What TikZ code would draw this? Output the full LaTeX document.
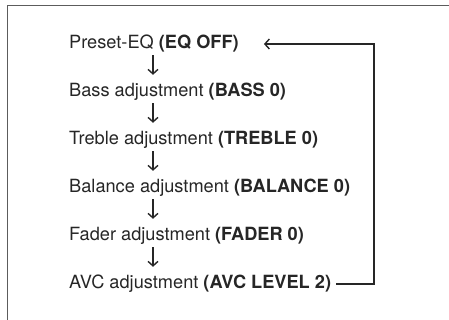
\documentclass[tikz,border=0pt]{standalone}
\usepackage{fontspec}
\setmainfont{TeX Gyre Heros}
\usepackage{tikz}
\usetikzlibrary{arrows.meta,positioning,calc}
\definecolor{Ink}{HTML}{262626}
\definecolor{Rule}{HTML}{5C5C5C}

\begin{document}
\begin{tikzpicture}[x=1pt,y=1pt,
    item/.style={anchor=base west,inner xsep=0pt,inner ysep=2.5pt,text height=13pt,
      text depth=4pt,text=Ink,font=\fontsize{18.2}{20}\selectfont},
    down/.style={-{Straight Barb[length=4.5pt,width=10pt,line width=1.4pt]},line width=1.3pt,
      Ink,shorten >=6pt},
    back/.style={-{Straight Barb[length=4.5pt,width=10pt,line width=1.4pt]},line width=1.2pt,Ink},
    frame/.style={line width=1.5pt,Rule}
  ]
    \useasboundingbox (0,0) rectangle (449,320);
    \draw[frame] (7.5,0) |- (449,314.5);
    \coordinate (col) at (153,0);
    \coordinate (loop) at (374,0);
    \node[item] (eq) at (69,271.5) {Preset-EQ \textbf{(EQ OFF)}};
    \node[item] (bass) at (69,223.5) {Bass adjustment \textbf{(BASS 0)}};
    \node[item] (treble) at (69,175.5) {Treble adjustment \textbf{(TREBLE 0)}};
    \node[item] (balance) at (69,127.5) {Balance adjustment \textbf{(BALANCE 0)}};
    \node[item] (fader) at (69,79.5) {Fader adjustment \textbf{(FADER 0)}};
    \node[item] (avc) at (69,31.5) {AVC adjustment \textbf{(AVC LEVEL 2)}};
    \foreach \a/\b in {eq/bass,bass/treble,treble/balance,balance/fader,fader/avc}
      \draw[down] (\a.south -| col) -- (\b.north -| col);
    \draw[back] ([xshift=5pt]avc.east) -- (avc.east -| loop) |- ([xshift=25pt]eq.east);
\end{tikzpicture}
\end{document}
